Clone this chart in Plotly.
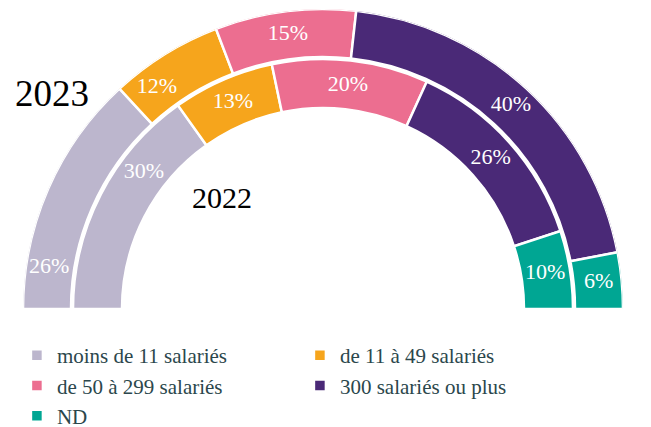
import numpy as np
import plotly.graph_objects as go

# Répartition par taille d'entreprise (en %)
categories = [
    "moins de 11 salariés",
    "de 11 à 49 salariés",
    "de 50 à 299 salariés",
    "300 salariés ou plus",
    "ND",
]
share_2023 = [26, 12, 15, 40, 6]
share_2022 = [30, 13, 20, 26, 10]

colors = ["#BCB6CD", "#F6A51C", "#EC6E90", "#4A2977", "#00A693"]

# ring geometry in radial-axis units: (inner radius, thickness, label radius)
RING_2023 = (252, 48, 277)
RING_2022 = (201, 49, 225)
# small angular nudges (deg) for the labels of each ring
nudge_2023 = [-15, -5, 0, 0, 0]
nudge_2022 = [10, 0, 0, 0, 0]

FONT = "Liberation Serif, Times New Roman, serif"


def spans(values):
    """Centre angle and angular width of each slice over a half circle."""
    total = sum(values)
    edges = np.concatenate([[0], np.cumsum(values)]) * 180.0 / total
    return (edges[:-1] + edges[1:]) / 2, np.diff(edges)


c23, w23 = spans(share_2023)
c22, w22 = spans(share_2022)

fig = go.Figure()

for i, name in enumerate(categories):
    fig.add_trace(go.Barpolar(
        name=name,
        theta=[c23[i], c22[i]],
        width=[w23[i], w22[i]],
        base=[RING_2023[0], RING_2022[0]],
        r=[RING_2023[1], RING_2022[1]],
        marker=dict(color=colors[i], line=dict(color="white", width=2.5)),
        hoverinfo="skip",
    ))

# percentage labels inside the slices
for centers, values, ring, nudge in [
    (c23, share_2023, RING_2023, nudge_2023),
    (c22, share_2022, RING_2022, nudge_2022),
]:
    fig.add_trace(go.Scatterpolar(
        theta=[c + n for c, n in zip(centers, nudge)],
        r=[ring[2]] * len(values),
        mode="text",
        text=[f"{v}%" for v in values],
        textfont=dict(family=FONT, size=22, color="white"),
        showlegend=False,
        hoverinfo="skip",
    ))

W, H = 651, 427
# polar domain in pixels (left, right, top, bottom)
DOM_L, DOM_R, DOM_T, DOM_B = 23, 623, 9, 309

fig.update_layout(
    width=W,
    height=H,
    margin=dict(l=0, r=0, t=0, b=0, autoexpand=False),
    paper_bgcolor="white",
    plot_bgcolor="white",
    font=dict(family=FONT),
    bargap=0,
    polar=dict(
        domain=dict(x=[DOM_L / W, DOM_R / W],
                    y=[(H - DOM_B) / H, (H - DOM_T) / H]),
        sector=[0, 180],
        bgcolor="white",
        radialaxis=dict(range=[0, 300], visible=False),
        angularaxis=dict(direction="clockwise", rotation=180,
                         thetaunit="degrees", visible=False),
    ),
    legend=dict(
        orientation="h",
        x=0.026, xanchor="left",
        y=(H - 335) / H, yanchor="top",
        entrywidth=238,
        itemwidth=30,
        font=dict(family=FONT, size=21, color="#2B474C"),
        bgcolor="rgba(0,0,0,0)",
    ),
    annotations=[
        dict(text="2023", x=52 / W, y=1 - 93 / H, xref="paper", yref="paper",
             xanchor="center", yanchor="middle", showarrow=False,
             font=dict(family=FONT, size=37, color="black")),
        dict(text="2022", x=222 / W, y=1 - 197 / H, xref="paper", yref="paper",
             xanchor="center", yanchor="middle", showarrow=False,
             font=dict(family=FONT, size=30, color="black")),
    ],
)

fig.write_html("out.html")
